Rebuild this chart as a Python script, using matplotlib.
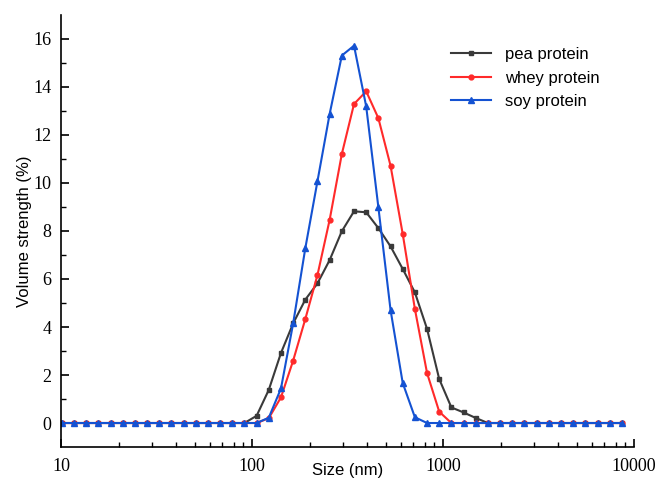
import numpy as np
import matplotlib
matplotlib.use("Agg")
import matplotlib.pyplot as plt
from matplotlib.ticker import LogLocator, FixedLocator, NullFormatter

# Size classes (nm)
size = [10.10, 11.70, 13.54, 15.69, 18.17, 21.04, 24.36, 28.21, 32.67, 37.84,
        43.82, 50.75, 58.77, 68.06, 78.82, 91.28, 105.7, 122.4, 141.8, 164.2,
        190.1, 220.2, 255.0, 295.3, 342.0, 396.1, 458.7, 531.2, 615.1, 712.4,
        825.0, 955.4, 1106, 1281, 1484, 1718, 1990, 2305, 2669, 3091,
        3580, 4145, 4801, 5560, 6439, 7456, 8635]

n_zero_low = 16  # points from 10.10 to 91.28
n_total = len(size)

pea_peak = [0.30, 1.38, 2.92, 4.15, 5.14, 5.82, 6.79, 7.99, 8.82, 8.78,
            8.12, 7.36, 6.42, 5.44, 3.92, 1.83, 0.65, 0.44, 0.21]
whey_peak = [0.0, 0.20, 1.07, 2.60, 4.33, 6.17, 8.47, 11.21, 13.29, 13.82,
             12.70, 10.72, 7.88, 4.75, 2.08, 0.47]
soy_peak = [0.0, 0.22, 1.44, 4.15, 7.28, 10.08, 12.88, 15.31, 15.72, 13.19,
            8.99, 4.71, 1.67, 0.24]

def pad(vals):
    v = [0.0] * n_zero_low + list(vals)
    return v + [0.0] * (n_total - len(v))

pea = pad(pea_peak)
whey = pad(whey_peak)
soy = pad(soy_peak)

fig = plt.figure(figsize=(6.56, 4.83), dpi=100)
ax = fig.add_axes([0.093, 0.0745, 0.8735, 0.8945])

ax.plot(size, pea, color="#3a3a3a", marker="s", ms=3.5, lw=1.5, label="pea protein")
ax.plot(size, whey, color="#ff2a2a", marker="o", ms=3.5, lw=1.5, label="whey protein")
ax.plot(size, soy, color="#1452d2", marker="^", ms=4, lw=1.5, label="soy protein")

ax.set_xscale("log")
ax.set_xlim(10, 10000)
ax.set_ylim(-1, 17)
ax.xaxis.set_major_locator(FixedLocator([10, 100, 1000, 10000]))
ax.set_xticklabels(["10", "100", "1000", "10000"])
ax.xaxis.set_minor_locator(LogLocator(base=10, subs=np.arange(2, 10)))
ax.xaxis.set_minor_formatter(NullFormatter())
ax.set_yticks(np.arange(0, 17, 2))
ax.set_yticks(np.arange(1, 17, 2), minor=True)

for s in ["top", "right"]:
    ax.spines[s].set_visible(False)
ax.spines["left"].set_linewidth(1.2)
ax.spines["bottom"].set_linewidth(1.2)
ax.tick_params(which="major", direction="in", length=6, width=1.2)
ax.tick_params(which="minor", direction="in", length=3.5, width=1)
for lab in ax.get_xticklabels() + ax.get_yticklabels():
    lab.set_fontfamily("Liberation Serif")
    lab.set_fontsize(13)
ax.tick_params(axis="x", pad=8)
ax.tick_params(axis="y", pad=7)

ax.set_xlabel("Size (nm)", fontfamily="Liberation Sans", fontsize=12, labelpad=-9)
ax.set_ylabel("Volume strength (%)", fontfamily="Liberation Sans", fontsize=12, labelpad=1)

leg = ax.legend(loc="upper left", bbox_to_anchor=(0.655, 0.96), frameon=False,
                prop={"family": "Liberation Sans", "size": 12},
                handlelength=2.4, labelspacing=0.5)

fig.savefig("out.png", dpi=100)
